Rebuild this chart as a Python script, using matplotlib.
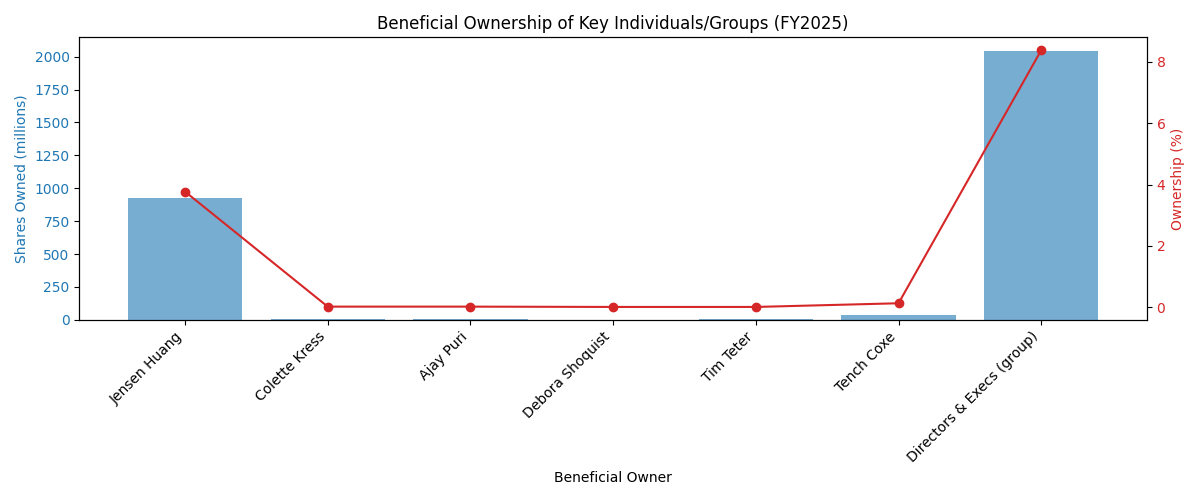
import matplotlib
matplotlib.use("Agg")
import matplotlib.pyplot as plt

# Beneficial ownership data (FY2025)
owners = ["Jensen Huang", "Colette Kress", "Ajay Puri", "Debora Shoquist",
          "Tim Teter", "Tench Coxe", "Directors & Execs (group)"]
shares_m = [928, 4.5, 4.2, 0.3, 2.5, 38, 2045]
ownership_pct = [3.77, 0.02, 0.02, 0.01, 0.01, 0.13, 8.38]

fig, ax1 = plt.subplots(figsize=(12, 5), dpi=100)

ax1.bar(owners, shares_m, color="tab:blue", alpha=0.6)
ax1.set_xlabel("Beneficial Owner")
ax1.set_ylabel("Shares Owned (millions)", color="tab:blue")
ax1.tick_params(axis="y", labelcolor="tab:blue")
plt.setp(ax1.get_xticklabels(), rotation=45, ha="right")

ax2 = ax1.twinx()
ax2.plot(owners, ownership_pct, color="tab:red", marker="o")
ax2.set_ylabel("Ownership (%)", color="tab:red")
ax2.tick_params(axis="y", labelcolor="tab:red")

plt.title("Beneficial Ownership of Key Individuals/Groups (FY2025)")
fig.tight_layout()
fig.savefig("out.png")
